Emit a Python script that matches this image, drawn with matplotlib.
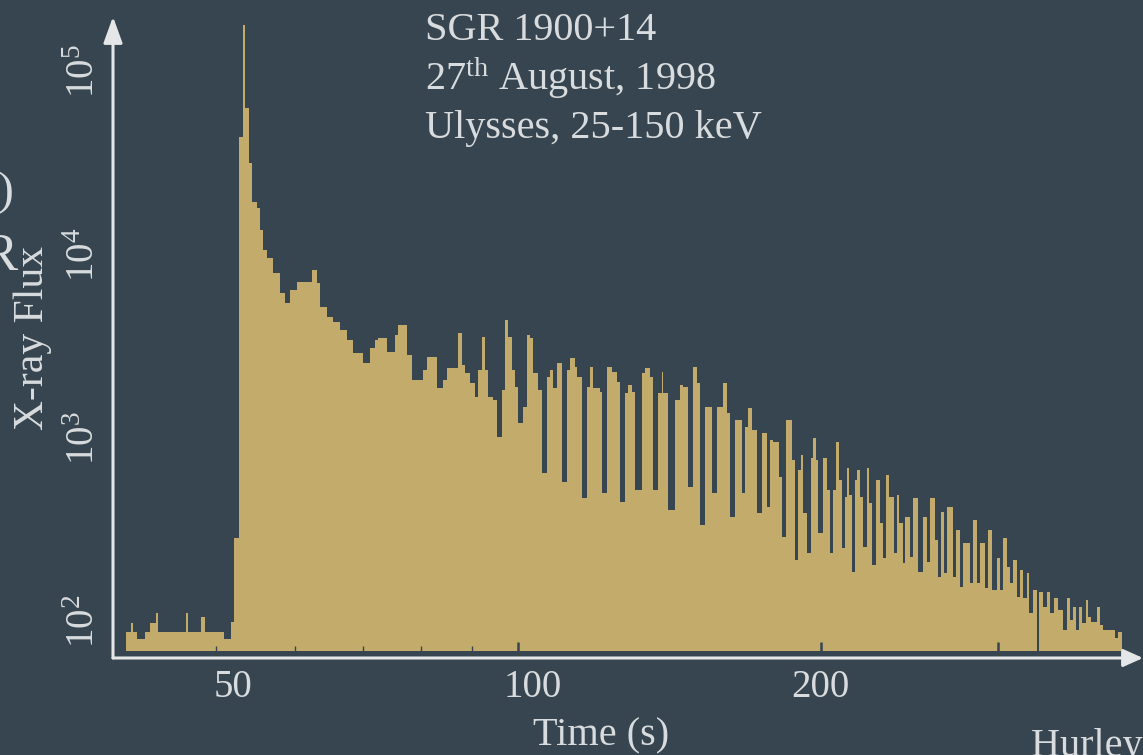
import matplotlib
matplotlib.use("Agg")
import matplotlib.pyplot as plt
from matplotlib.ticker import (FixedLocator, FixedFormatter, LogFormatterMathtext,
                               NullLocator)
from matplotlib.transforms import ScaledTranslation

# ---------------------------------------------------------------------------
# Light curve of the 27 August 1998 giant flare (counts per bin, 25-150 keV)
# bin edges in seconds, one more edge than there are flux values
# ---------------------------------------------------------------------------
bin_edges_s = [
    40.71, 41.18, 41.37, 41.75, 42.52, 43.01, 43.61, 43.81, 46.70, 46.92,
    48.34, 48.79, 50.96, 51.78, 52.13, 52.73, 53.22, 53.52, 53.99, 54.30,
    54.93, 55.34, 55.76, 56.20, 57.05, 57.94, 58.60, 59.27, 60.19, 62.29,
    63.00, 63.48, 64.46, 65.44, 66.45, 67.48, 68.52, 70.10, 71.19, 72.01,
    72.50, 74.01, 75.37, 75.89, 77.49, 78.39, 80.39, 81.12, 83.00, 84.14,
    84.92, 87.09, 87.89, 88.50, 89.52, 90.55, 91.17, 92.01, 92.64, 93.28,
    94.35, 95.21, 96.33, 97.00, 97.66, 98.56, 99.24, 99.93, 101.08, 102.01,
    102.71, 103.41, 104.60, 105.56, 106.77, 107.53, 108.27, 109.27, 110.53, 111.80,
    112.57, 113.87, 114.39, 115.70, 117.03, 117.84, 118.65, 120.59, 121.14, 122.54,
    123.95, 125.38, 126.24, 127.70, 128.58, 129.76, 130.65, 132.75, 133.67, 135.22,
    136.15, 137.72, 138.99, 139.31, 140.91, 143.19, 144.83, 145.83, 147.51, 149.20,
    150.57, 151.63, 153.38, 155.86, 157.65, 159.83, 161.30, 162.41, 164.28, 166.92,
    168.07, 169.22, 170.82, 172.79, 174.78, 176.79, 178.01, 179.24, 181.71, 182.96,
    184.64, 187.19, 188.48, 189.77, 191.12, 192.00, 193.76, 195.55, 196.44, 197.80,
    198.71, 200.99, 202.84, 204.24, 205.64, 207.06, 208.48, 209.91, 211.35, 212.32,
    213.29, 214.80, 216.28, 217.28, 218.78, 220.28, 222.31, 223.33, 224.87, 226.94,
    229.02, 230.60, 232.18, 233.78, 236.46, 238.09, 239.17, 241.42, 242.53, 245.33,
    247.02, 249.86, 252.74, 255.06, 256.82, 259.77, 261.55, 263.35, 265.16, 266.98,
    270.73, 272.60, 275.11, 277.01, 281.48, 283.42, 286.03, 288.00, 291.31, 293.31,
    296.00, 299.39, 301.51, 303.59, 306.38, 308.50, 310.62, 313.48, 315.64, 317.82,
    320.74, 322.21, 325.17, 328.15, 329.66, 332.68, 335.73, 338.11, 341.22, 344.36,
    348.33, 351.54, 353.96, 356.40, 358.85, 361.32, 363.81, 367.15, 368.83, 371.36,
    376.48, 379.15, 381.77, 392.40, 395.11, 398.74,
]

flux_counts = [
    87, 98, 87, 80, 87, 98, 111, 87, 111, 87,
    105, 87, 80, 99, 284, 43600, 178000, 62800, 31500, 19300,
    17900, 13600, 10600, 9560, 7910, 6160, 5430, 6390, 7060, 8220,
    6980, 5160, 4560, 4280, 3870, 3410, 2900, 2560, 3090, 3410,
    3500, 2940, 3630, 4120, 2830, 2070, 2340, 2750, 1870, 2070,
    2400, 3730, 2490, 2260, 1990, 1670, 2340, 3540, 2340, 1670,
    1610, 1010, 1820, 4390, 3540, 2340, 1890, 1200, 1470, 3630,
    3500, 2260, 1820, 643, 2140, 2340, 1870, 2560, 574, 2340,
    2720, 2430, 2140, 470, 1890, 2430, 1870, 1780, 500, 2430,
    2280, 2010, 447, 1750, 1940, 1780, 519, 2260, 2400, 2140,
    519, 1750, 2280, 1750, 404, 1610, 1940, 1890, 540, 2430,
    1990, 334, 1470, 500, 1470, 1990, 1360, 370, 1250, 500,
    1150, 1450, 1100, 389, 1060, 419, 973, 948, 611, 288,
    1250, 757, 216, 667, 806, 389, 235, 776, 998, 757,
    303, 776, 519, 235, 519, 948, 589, 251, 476, 684,
    488, 185, 589, 667, 476, 254, 684, 441, 202, 589,
    343, 221, 627, 476, 235, 488, 343, 208, 370, 224,
    470, 185, 370, 210, 470, 277, 174, 394, 183, 419,
    174, 314, 154, 267, 162, 356, 162, 267, 152, 314,
    148, 221, 148, 284, 198, 162, 216, 136, 190, 134,
    183, 111, 148, 69, 144, 119, 144, 111, 134, 115,
    90, 134, 101, 119, 90, 119, 98, 131, 105, 99,
    119, 95, 90, 81, 87,
]

floor_counts = 69            # histogram floor

x_major = [100, 200, 300]
x_major_labels = ["100", "200", ""]
x_minor = [50, 60, 70, 80, 90]
x_minor_labels = ["50", "", "", "", ""]
y_ticks = [1e2, 1e3, 1e4, 1e5]

caption_lines = ["SGR 1900+14", r"27$^{\mathrm{th}}$ August, 1998", "Ulysses, 25-150 keV"]

# ---------------------------------------------------------------------------
BG = "#36454f"
GOLD = "#c2ab6b"
INK = "#d9dcde"
AXIS = "#e4e6e7"

plt.rcParams["font.family"] = ["Liberation Serif", "DejaVu Serif"]
plt.rcParams["mathtext.fontset"] = "custom"
plt.rcParams["mathtext.rm"] = "Liberation Serif"
plt.rcParams["mathtext.it"] = "Liberation Serif:italic"
plt.rcParams["mathtext.bf"] = "Liberation Serif:bold"

W, H = 1143, 755
fig = plt.figure(figsize=(W / 100, H / 100), dpi=100, facecolor=BG)
ax = fig.add_axes([113 / W, 97 / H, 1030 / W, 641.3 / H])
ax.set_facecolor(BG)

ax.set_xscale("log")
ax.set_yscale("log")
ax.set_xlim(39.52, 418.35)
ax.set_ylim(63.0, 1.977e5)

ax.stairs(flux_counts, bin_edges_s, baseline=floor_counts, fill=True,
          color=GOLD, linewidth=0)

for s in ax.spines.values():
    s.set_visible(False)

# axis lines with arrow heads
ax.annotate("", xy=(0, 1), xytext=(0, 0), xycoords="axes fraction",
            textcoords="axes fraction", annotation_clip=False,
            arrowprops=dict(arrowstyle="-|>,head_length=1.6,head_width=0.58",
                            color=AXIS, lw=2.2, shrinkA=0, shrinkB=0,
                            mutation_scale=10))
ax.annotate("", xy=(1, 0), xytext=(0, 0), xycoords="axes fraction",
            textcoords="axes fraction", annotation_clip=False,
            arrowprops=dict(arrowstyle="-|>,head_length=1.2,head_width=0.54",
                            color=AXIS, lw=2.2, shrinkA=0, shrinkB=0,
                            mutation_scale=10))

# x ticks: short dark notches on the fill, labels below
ax.xaxis.set_major_locator(FixedLocator(x_major))
ax.xaxis.set_major_formatter(FixedFormatter(x_major_labels))
ax.xaxis.set_minor_locator(FixedLocator(x_minor))
ax.xaxis.set_minor_formatter(FixedFormatter(x_minor_labels))
ax.tick_params(axis="x", which="both", direction="in", color=BG,
               labelcolor=INK, labelsize=28, pad=8)
ax.tick_params(axis="x", which="major", length=11.5, width=1.8)
ax.tick_params(axis="x", which="minor", length=8.6, width=1.0)

# y ticks: rotated powers of ten, no tick marks
ax.yaxis.set_major_locator(FixedLocator(y_ticks))
ax.yaxis.set_major_formatter(LogFormatterMathtext())
ax.yaxis.set_minor_locator(NullLocator())
ax.tick_params(axis="y", which="both", length=0, labelcolor=INK,
               labelsize=28, pad=7, labelrotation=90)
for lab in ax.get_yticklabels():
    lab.set_verticalalignment("center")

# nudge the "50" and "100" labels slightly to the right
minor_ticks = ax.xaxis.get_minor_ticks()
major_ticks = ax.xaxis.get_major_ticks()
for tick, dx in ((minor_ticks[0], 17), (major_ticks[0], 14)):
    tick.label1.set_transform(tick.label1.get_transform()
                              + ScaledTranslation(dx / 100, 0, fig.dpi_scale_trans))

ax.set_xlabel("Time (s)", fontsize=29, color=INK, va="baseline")
ax.xaxis.set_label_coords(0.4743, -0.1357)
ax.set_ylabel("X-ray Flux", fontsize=30, color=INK, va="baseline")
ax.yaxis.set_label_coords(-0.0679, 0.499)

for line, base in zip(caption_lines, [40, 90, 138]):
    fig.text(425 / W, 1 - base / H, line, fontsize=29, color=INK, va="baseline")

# pieces of neighbouring panel text running off the edges
fig.text(13 / W, 1 - 204 / H, ")", fontsize=34, color=INK, ha="right", va="baseline")
fig.text(18 / W, 1 - 270 / H, "R", fontsize=38, color=INK, ha="right", va="baseline")
fig.text(1031 / W, 1 - 756 / H, "Hurley et al.", fontsize=29, color=INK,
         ha="left", va="baseline")

fig.savefig("out.png", dpi=100, facecolor=BG)
